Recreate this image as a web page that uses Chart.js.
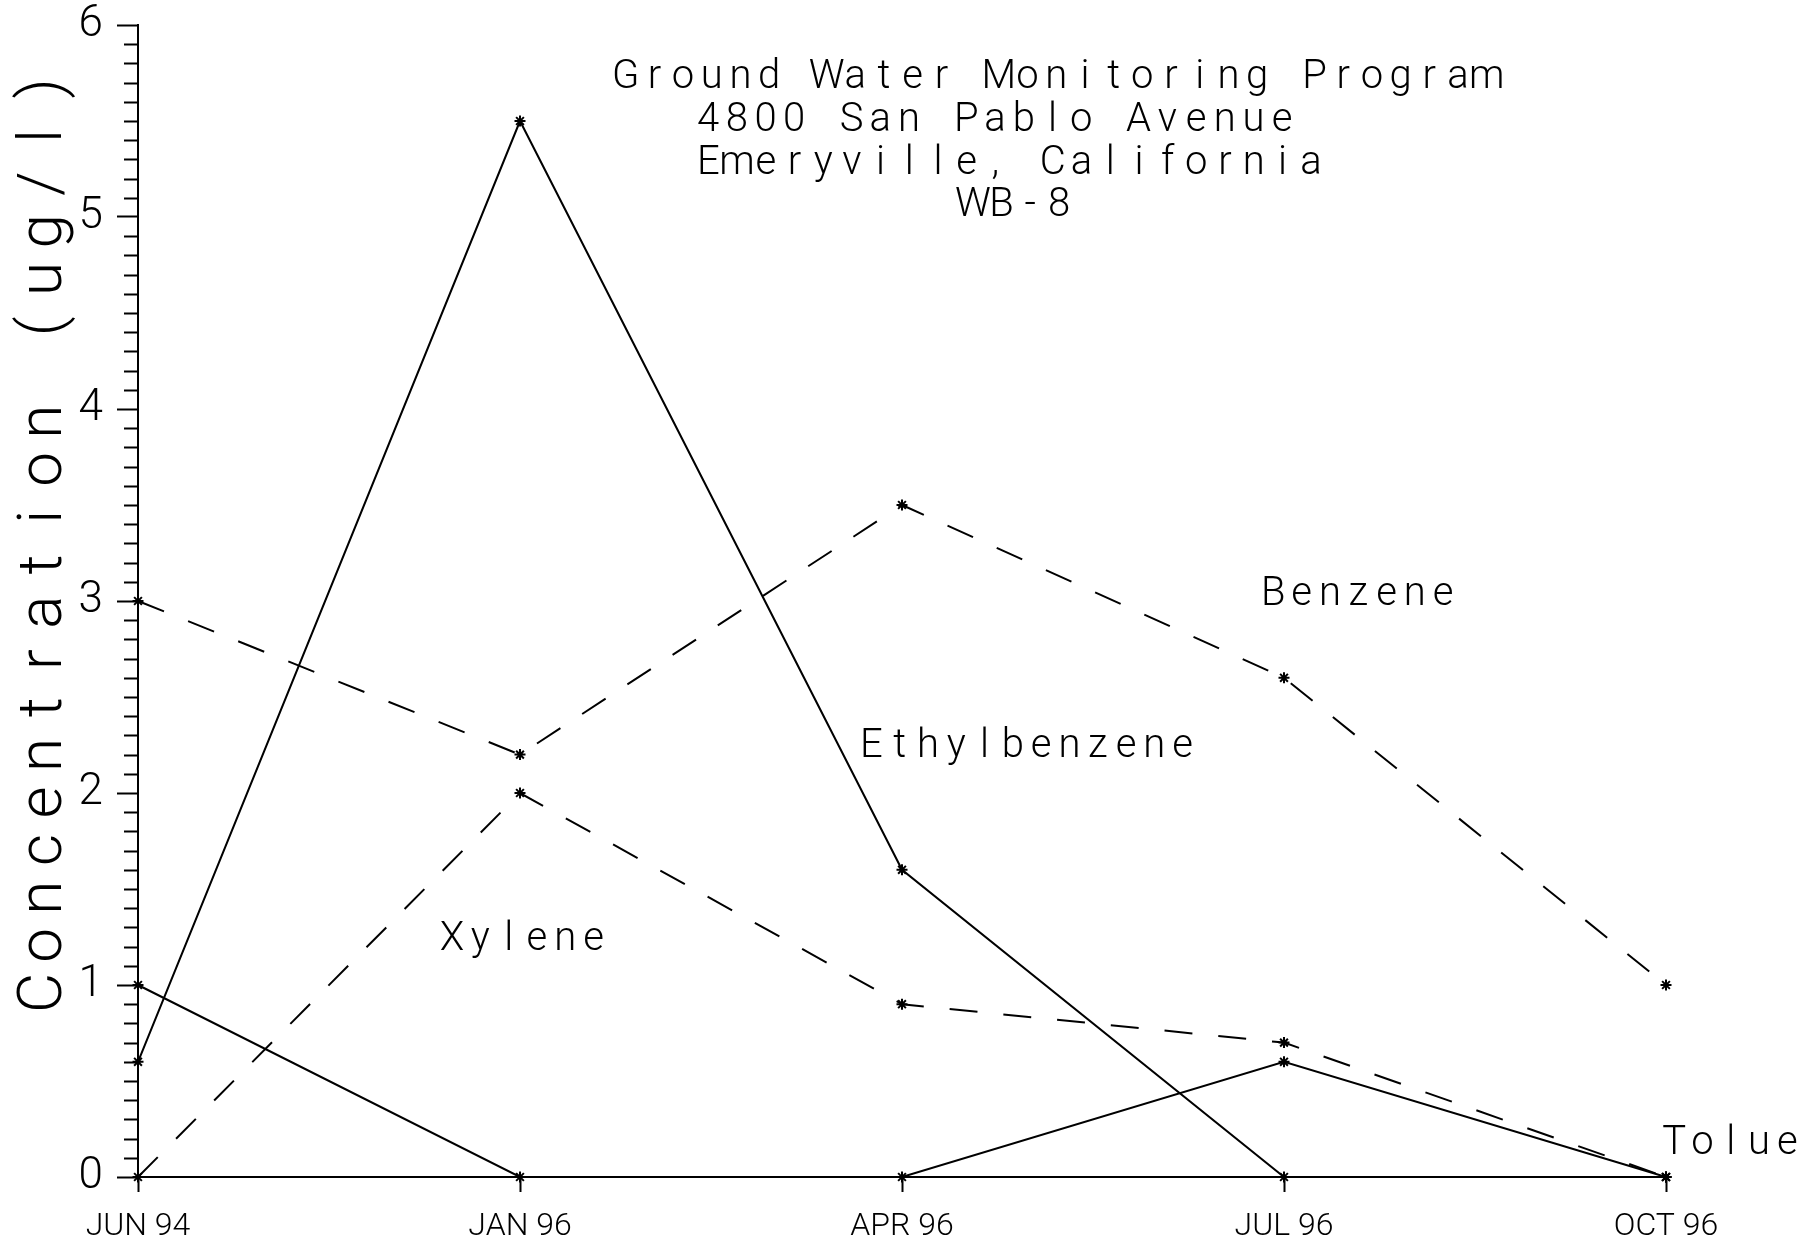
<!DOCTYPE html>
<html>
<head>
<meta charset="utf-8">
<title>Ground Water Monitoring Program - WB-8</title>
<style>
  html, body { margin: 0; padding: 0; background: #ffffff; }
  canvas { display: block; }
</style>
<script src="https://cdn.jsdelivr.net/npm/chart.js@4.4.1/dist/chart.umd.min.js"></script>
</head>
<body>
<canvas id="chart" width="1805" height="1246"></canvas>
<script>
// Sampling dates (x categories)
const dates = ['JUN 94', 'JAN 96', 'APR 96', 'JUL 96', 'OCT 96'];

// Concentrations in ug/l for each compound
const benzene      = [3.0, 2.2, 3.5, 2.6, 1.0];
const toluene      = [1.0, 0.0, 0.0, 0.6, 0.0];
const ethylbenzene = [0.6, 5.5, 1.6, 0.0, 0.0];
const xylene       = [0.0, 2.0, 0.9, 0.7, 0.0];

// Axis range and labels
const yMin = 0;
const yMax = 6;
const yMajorStep = 1;
const yMinorStep = 0.1;
const yTitle = 'Concentration (ug/l)';

// Heading block
const titleLines = [
  'Ground Water Monitoring Program',
  '4800 San Pablo Avenue',
  'Emeryville, California',
  'WB-8'
];

// Compound names written next to their curves, anchored in data space
// [name, category index, concentration]
const curveNames = [
  ['Benzene',      2.94, 2.98],
  ['Ethylbenzene', 1.89, 2.19],
  ['Xylene',       0.79, 1.18],
  ['Toluene',      3.99, 0.12]
];

const FONT = 'Roboto';
const INK = '#000000';

// Plotter-style text: every glyph sits in a fixed-pitch cell
function pitchText(ctx, str, x0, baseline, pitch, size) {
  ctx.font = `300 ${size}px ${FONT}`;
  ctx.textAlign = 'center';
  ctx.textBaseline = 'alphabetic';
  const first = ctx.measureText(str[0]).width / 2;
  for (let i = 0; i < str.length; i++) {
    ctx.fillText(str[i], x0 + first + i * pitch, baseline);
  }
}

// Minor tick marks every 0.1 on the concentration axis
const minorTicks = {
  id: 'minorTicks',
  afterDraw(chart) {
    const { ctx } = chart;
    const y = chart.scales.y;
    const left = chart.chartArea.left;
    ctx.save();
    ctx.strokeStyle = INK;
    ctx.lineWidth = 2;
    ctx.beginPath();
    const n = Math.round((yMax - yMin) / yMinorStep);
    for (let k = 1; k < n; k++) {
      if (k % Math.round(yMajorStep / yMinorStep) === 0) continue;
      const py = Math.round(y.getPixelForValue(yMin + k * yMinorStep)) + 0.5;
      ctx.moveTo(left - 14, py);
      ctx.lineTo(left, py);
    }
    ctx.stroke();
    ctx.restore();
  }
};

// Heading, rotated axis title and curve names
const plotterText = {
  id: 'plotterText',
  afterDraw(chart) {
    const { ctx } = chart;
    const xs = chart.scales.x;
    const ys = chart.scales.y;
    ctx.save();
    ctx.fillStyle = INK;

    // heading block
    const starts = [612, 697, 697, 955];
    const baselines = [88, 131, 174, 216];
    titleLines.forEach((line, i) => pitchText(ctx, line, starts[i], baselines[i], 28.7, 40));

    // curve names
    curveNames.forEach(([name, idx, val]) => {
      const px = xs.getPixelForValue(idx);
      const py = ys.getPixelForValue(val);
      pitchText(ctx, name, px, py, 28.3, 40);
    });

    // concentration axis title, reading bottom to top
    ctx.save();
    ctx.translate(61, 1013);
    ctx.rotate(-Math.PI / 2);
    pitchText(ctx, yTitle, 0, 0, 47.6, 62);
    ctx.restore();

    ctx.restore();
  }
};

function lineSet(label, values, dashed) {
  return {
    label,
    data: values,
    borderColor: INK,
    backgroundColor: INK,
    borderWidth: 2,
    borderDash: dashed ? [28, 26] : [],
    pointStyle: 'star',
    pointRadius: 5.5,
    pointBorderColor: INK,
    pointBorderWidth: 2,
    tension: 0,
    fill: false,
    clip: false
  };
}

function build() {
  const ctx = document.getElementById('chart').getContext('2d');
  new Chart(ctx, {
    type: 'line',
    data: {
      labels: dates,
      datasets: [
        lineSet('Ethylbenzene', ethylbenzene, false),
        lineSet('Toluene', toluene, false),
        lineSet('Benzene', benzene, true),
        lineSet('Xylene', xylene, true)
      ]
    },
    options: {
      responsive: false,
      animation: false,
      devicePixelRatio: 1,
      layout: { padding: { top: 25, right: 139, left: 0, bottom: 0 } },
      plugins: {
        legend: { display: false },
        tooltip: { enabled: false },
        title: { display: false }
      },
      scales: {
        x: {
          type: 'category',
          offset: false,
          grid: {
            display: true,
            drawOnChartArea: false,
            drawTicks: true,
            tickLength: 15,
            color: INK,
            tickColor: INK,
            tickWidth: 2
          },
          border: { display: true, color: INK, width: 2 },
          ticks: {
            color: INK,
            font: { family: FONT, size: 32, weight: 300 },
            padding: 16,
            maxRotation: 0,
            autoSkip: false
          },
          afterFit(scale) {
            scale.height = 69;
            scale.paddingLeft = 0;
            scale.paddingRight = 0;
          }
        },
        y: {
          min: yMin,
          max: yMax,
          grid: {
            display: true,
            drawOnChartArea: false,
            drawTicks: true,
            tickLength: 21,
            color: INK,
            tickColor: INK,
            tickWidth: 2
          },
          border: { display: true, color: INK, width: 2 },
          ticks: {
            stepSize: yMajorStep,
            color: INK,
            font: { family: FONT, size: 44, weight: 300 },
            padding: 14
          },
          afterFit(scale) {
            scale.width = 138;
            scale.paddingTop = 0;
            scale.paddingBottom = 0;
          }
        }
      }
    },
    plugins: [minorTicks, plotterText]
  });
}

const loads = document.fonts ? Promise.all([
  document.fonts.load(`300 40px ${FONT}`),
  document.fonts.load(`300 62px ${FONT}`)
]).catch(() => null) : Promise.resolve();
loads.then(build, build);
</script>
</body>
</html>
